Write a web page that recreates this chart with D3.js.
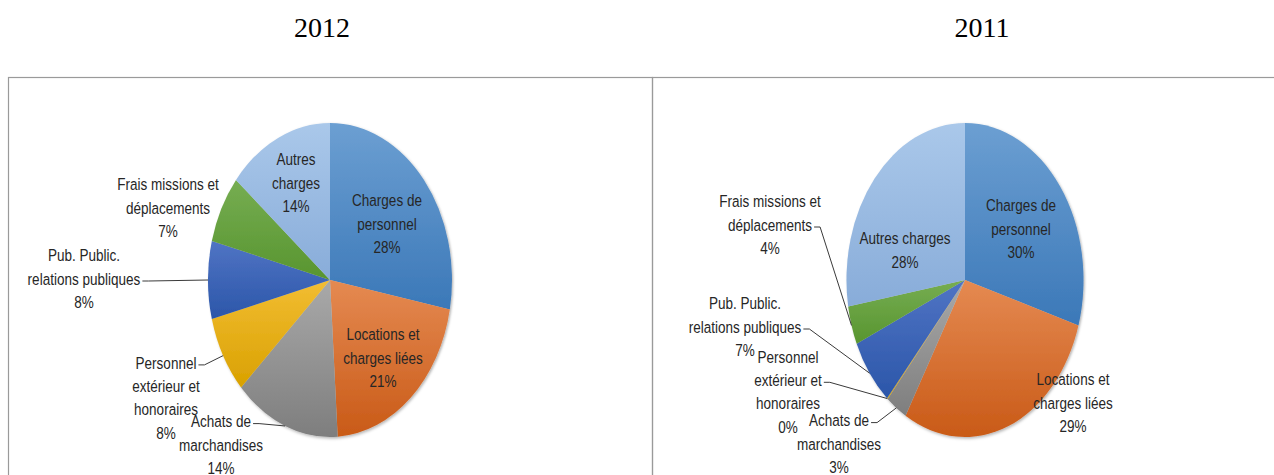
<!DOCTYPE html>
<html>
<head>
<meta charset="utf-8">
<script src="https://cdn.jsdelivr.net/npm/d3@7"></script>
<style>
  body { margin: 0; background: #fff; }
  svg { display: block; }
  .title { font-family: "Liberation Serif", "Times New Roman", serif; font-size: 28px; fill: #000; }
  .lbl { font-family: "Liberation Sans", Arial, sans-serif; font-size: 16.5px; fill: #262626; }
</style>
</head>
<body>
<div id="chart"></div>
<script>
// categories, clockwise from 12 o'clock
const categories = [
  "Charges de personnel",
  "Locations et charges liées",
  "Achats de marchandises",
  "Personnel extérieur et honoraires",
  "Pub. Public. relations publiques",
  "Frais missions et déplacements",
  "Autres charges"
];
const years = ["2012", "2011"];
const values2012 = [28, 21, 14, 8, 8, 7, 14];
const values2011 = [30, 29, 3, 0.1, 7, 4, 28];

// top / bottom colours of each slice gradient
const colorsTop = ["#6c9fd2", "#e58a52", "#a9a9a9", "#f2bd33", "#5074c4", "#76ad52", "#aac8ea"];
const colorsBottom = ["#3b78b8", "#c95a17", "#7e7e7e", "#d9a100", "#2b56a9", "#58952f", "#88acd9"];

// layout for each panel: pie centre, radius, horizontal squash, label placement
const panels = [
  {
    year: years[0], values: values2012, cx: 330, cy: 280, r: 157, sx: 0.777, titleX: 322,
    labels: [
      { dx: 57, dy: -56, lines: ["Charges de", "personnel"] },
      { dx: 53, dy: 78, lines: ["Locations et", "charges liées"] },
      { dx: -109, dy: 165, lines: ["Achats de", "marchandises"], leader: 0 },
      { dx: -164, dy: 118, lines: ["Personnel", "extérieur et", "honoraires"], leader: 0 },
      { dx: -246, dy: -1, lines: ["Pub. Public.", "relations publiques"], leader: 1 },
      { dx: -162, dy: -72, lines: ["Frais missions et", "déplacements"] },
      { dx: -34, dy: -97, lines: ["Autres", "charges"] }
    ]
  },
  {
    year: years[1], values: values2011, cx: 965, cy: 280, r: 157, sx: 0.755, titleX: 982,
    labels: [
      { dx: 56, dy: -51, lines: ["Charges de", "personnel"] },
      { dx: 108, dy: 123, lines: ["Locations et", "charges liées"] },
      { dx: -126, dy: 164, lines: ["Achats de", "marchandises"], leader: 0 },
      { dx: -177, dy: 112, lines: ["Personnel", "extérieur et", "honoraires"], leader: 1 },
      { dx: -220, dy: 47, lines: ["Pub. Public.", "relations publiques"], leader: 1 },
      { dx: -195, dy: -55, lines: ["Frais missions et", "déplacements"], leader: 1 },
      { dx: -60, dy: -30, lines: ["Autres charges"] }
    ]
  }
];

const W = 1274, H = 475;
const lineH = 23.4;
const textSx = 0.82; // labels are drawn horizontally condensed

const svg = d3.select("#chart").append("svg")
  .attr("width", W)
  .attr("height", H);

const defs = svg.append("defs");
categories.forEach((c, i) => {
  const g = defs.append("linearGradient")
    .attr("id", "grad" + i)
    .attr("x1", 0).attr("y1", 0).attr("x2", 0).attr("y2", 1);
  g.append("stop").attr("offset", "0%").attr("stop-color", colorsTop[i]);
  g.append("stop").attr("offset", "100%").attr("stop-color", colorsBottom[i]);
});
const shadow = defs.append("filter").attr("id", "shadow")
  .attr("x", "-10%").attr("y", "-10%").attr("width", "120%").attr("height", "120%");
shadow.append("feDropShadow")
  .attr("dx", 1.5).attr("dy", 1.5).attr("stdDeviation", 1.5)
  .attr("flood-color", "#000").attr("flood-opacity", 0.3);

// panel frames
svg.append("rect").attr("x", 8.5).attr("y", 77.5).attr("width", 644).attr("height", 420)
  .attr("fill", "none").attr("stroke", "#9a9a9a").attr("stroke-width", 1.2);
svg.append("rect").attr("x", 652.5).attr("y", 77.5).attr("width", 640).attr("height", 420)
  .attr("fill", "none").attr("stroke", "#9a9a9a").attr("stroke-width", 1.2);

const pie = d3.pie().sort(null).value(d => d);

panels.forEach(p => {
  svg.append("text")
    .attr("class", "title")
    .attr("x", p.titleX)
    .attr("y", 37)
    .attr("text-anchor", "middle")
    .text(p.year);

  const total = d3.sum(p.values);
  const arcs = pie(p.values);
  const arc = d3.arc().innerRadius(0).outerRadius(p.r);

  const g = svg.append("g")
    .attr("transform", `translate(${p.cx},${p.cy})`);

  g.append("g")
    .attr("filter", "url(#shadow)")
    .attr("transform", `scale(${p.sx},1)`)
    .selectAll("path")
    .data(arcs)
    .join("path")
    .attr("d", arc)
    .attr("fill", (d, i) => `url(#grad${i})`);

  const lblG = g.append("g");
  const txtG = g.append("g").attr("transform", `scale(${textSx},1)`);

  // labels
  arcs.forEach((a, i) => {
    const L = p.labels[i];
    const lines = L.lines.concat([Math.round(a.value / total * 100) + "%"]);
    const top = L.dy - (lines.length - 1) * lineH / 2;
    const t = txtG.append("text")
      .attr("class", "lbl")
      .attr("text-anchor", "middle");
    const spans = lines.map((s, k) => t.append("tspan")
      .attr("x", L.dx / textSx)
      .attr("y", top + k * lineH + 5.8)
      .text(s));

    if (L.leader !== undefined) {
      const mid = (a.startAngle + a.endAngle) / 2;
      const px = Math.sin(mid) * p.r * p.sx;
      const py = -Math.cos(mid) * p.r;
      const w = spans[L.leader].node().getComputedTextLength() * textSx;
      const ax = L.dx + w / 2 + 2;
      const ay = top + L.leader * lineH + 2;
      lblG.append("polyline")
        .attr("points", [[ax, ay], [ax + 6, ay], [px, py]].map(q => q.join(",")).join(" "))
        .attr("fill", "none")
        .attr("stroke", "#3a3a3a")
        .attr("stroke-width", 1);
    }
  });
});
</script>
</body>
</html>
